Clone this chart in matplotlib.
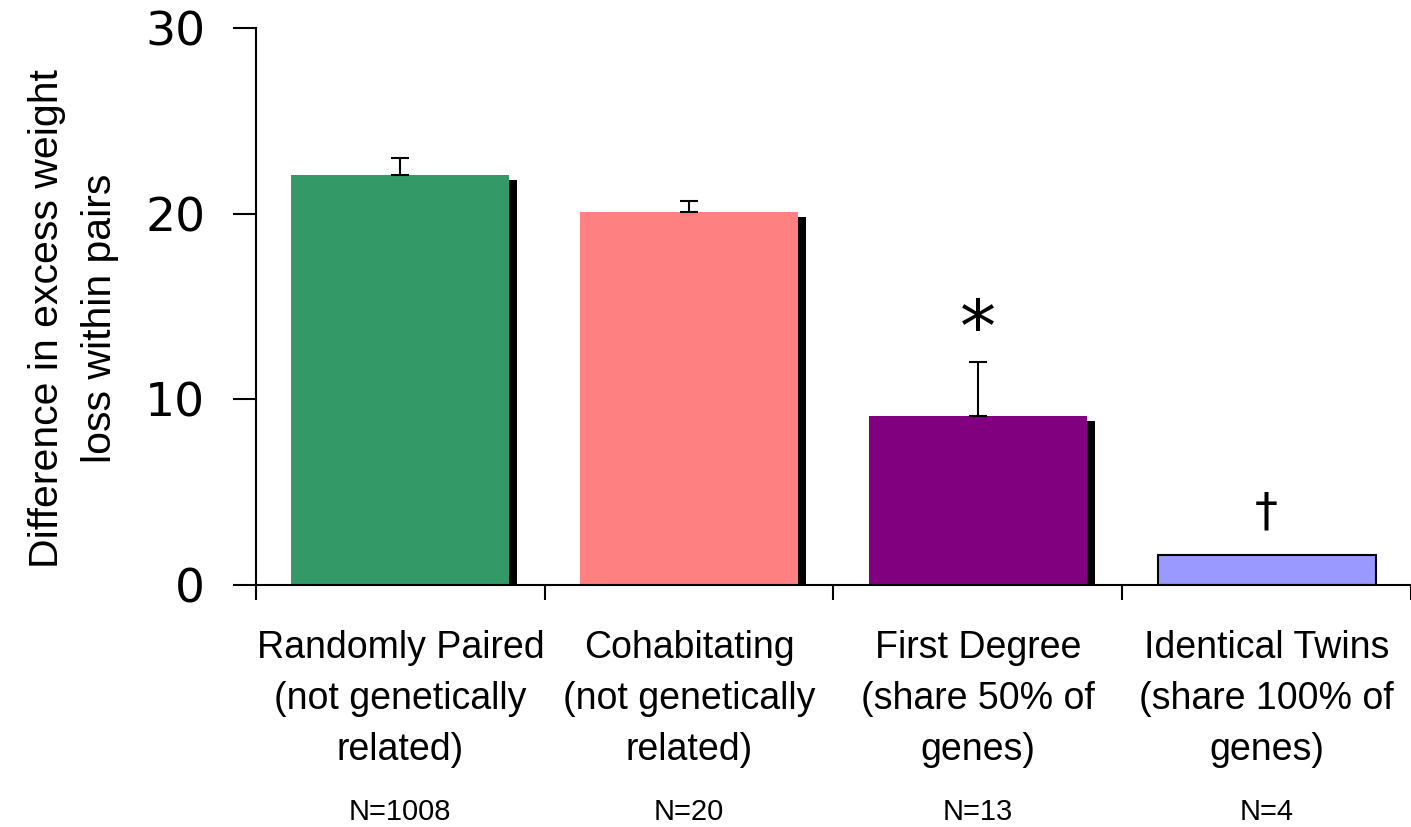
import matplotlib
matplotlib.use("Agg")
import matplotlib.pyplot as plt
import matplotlib.patheffects as pe
from matplotlib.transforms import blended_transform_factory
import numpy as np

categories = ["Randomly Paired\n(not genetically\nrelated)",
              "Cohabitating\n(not genetically\nrelated)",
              "First Degree\n(share 50% of\ngenes)",
              "Identical Twins\n(share 100% of\ngenes)"]
n_labels = ["N=1008", "N=20", "N=13", "N=4"]
values = [22.1, 20.1, 9.1, 1.6]
upper_err = [0.9, 0.6, 2.9, 0.0]
marks = ["", "", "*", "\u2020"]
colors = ["#339966", "#ff8080", "#800080", "#9999ff"]
shadowed = [True, True, True, False]

fig = plt.figure(figsize=(14.11, 8.27), dpi=100)
ax = fig.add_axes([0.1814, 0.2926, 0.8186, 0.6735])

pos = np.arange(len(values))
bars = ax.bar(pos, values, 0.755, color=colors, zorder=2)
for rect, has_shadow in zip(bars, shadowed):
    if has_shadow:
        rect.set_path_effects([pe.SimplePatchShadow(offset=(5.8, -3.6),
                                                    shadow_rgbFace="black",
                                                    alpha=1.0),
                               pe.Normal()])
    else:
        rect.set_edgecolor("black")
        rect.set_linewidth(1.5)

has_err = [e > 0 for e in upper_err]
ax.errorbar(pos[has_err], np.array(values)[has_err],
            yerr=[np.zeros(sum(has_err)), np.array(upper_err)[has_err]],
            fmt="none", ecolor="black", elinewidth=1.5, capsize=6.8,
            capthick=1.5, zorder=3)

# significance marks sit on the baseline just above each error bar
for x, v, e, m in zip(pos, values, upper_err, marks):
    if m == "*":
        ax.text(x, v + e + 0.6, m, ha="center", va="baseline",
                fontsize=52, family="DejaVu Sans")
    elif m:
        ax.text(x, v + e + 1.6, m, ha="center", va="baseline",
                fontsize=33, family="DejaVu Sans")

ax.set_xlim(-0.5, 3.5)
ax.set_ylim(0, 30)
ax.set_yticks([0, 10, 20, 30])
ax.set_yticklabels(["0", "10", "20", "30"], fontsize=34, family="DejaVu Sans")
ax.set_xticks(np.arange(-0.5, 4.0, 1.0))
ax.set_xticklabels([])
ax.tick_params(axis="y", direction="out", length=16.5, width=1.5, pad=20)
ax.tick_params(axis="x", direction="out", length=11, width=1.5)
for side in ["top", "right"]:
    ax.spines[side].set_visible(False)
for side in ["left", "bottom"]:
    ax.spines[side].set_linewidth(1.5)

ax.set_ylabel("Difference in excess weight\nloss within pairs",
              fontsize=29.5, family="Liberation Sans", linespacing=1.5)
ax.yaxis.set_label_coords(-0.119, 0.479)

trans = blended_transform_factory(ax.transData, ax.transAxes)
for x, label, n in zip(pos, categories, n_labels):
    ax.text(x, -0.08, label, transform=trans, ha="center", va="top",
            fontsize=27, family="Liberation Sans", linespacing=1.54)
    ax.text(x, -0.408, n, transform=trans, ha="center", va="center",
            fontsize=21, family="Liberation Sans")

fig.savefig("out.png", dpi=100)
